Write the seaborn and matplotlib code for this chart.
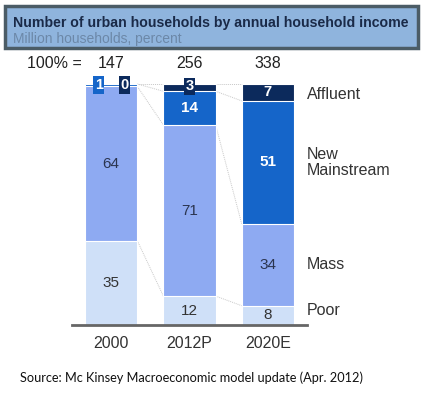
import numpy as np
import matplotlib.pyplot as plt
import seaborn as sns
from matplotlib.patches import Rectangle

years = ["2000", "2012P", "2020E"]
totals = [147, 256, 338]
segments = ["Poor", "Mass", "New\nMainstream", "Affluent"]
poor = [35, 12, 8]
mass = [64, 71, 34]
new_mainstream = [1, 14, 51]
affluent = [0, 3, 7]

colors = ["#cfe0f8", "#8eaaf2", "#1565c9", "#0c2a5c"]
text_colors = ["#333333", "#2b3550", "white", "white"]
weights = ["normal", "normal", "bold", "bold"]

sns.set_style("white")
plt.rcParams["font.family"] = ["Liberation Sans", "DejaVu Sans"]

fig = plt.figure(figsize=(4.26, 3.94), dpi=100)
ax = fig.add_axes([72 / 426, 1 - 325 / 394, 235 / 426, 241 / 394])

layers = np.array([poor, mass, new_mainstream, affluent], dtype=float)
cum = layers.cumsum(axis=0)

# draw from the top layer down so each shorter bar sits in front
for i in range(3, -1, -1):
    sns.barplot(x=years, y=cum[i], color=colors[i], width=0.667,
                edgecolor="white", linewidth=0.8, saturation=1, ax=ax)

# dotted connectors between segment tops
half = 0.667 / 2
for j in range(2):
    for i in range(4):
        ax.plot([j + half, j + 1 - half], [cum[i, j], cum[i, j + 1]],
                color="#c8c8c8", lw=0.7, ls=(0, (1, 1)), clip_on=False, zorder=0)

# segment labels
for j in range(3):
    for i in range(4):
        v = layers[i, j]
        mid = cum[i, j] - v / 2
        if v >= 8:
            ax.text(j, mid, f"{int(v)}", ha="center", va="center", fontsize=11,
                    color=text_colors[i], fontweight=weights[i])

# small boxed labels on thin segments
box_kw = dict(ha="center", va="center", fontsize=10.5, fontweight="bold", color="white")
ax.text(-0.16, 99.5, "1", bbox=dict(boxstyle="square,pad=0.12", fc=colors[2], ec="none"), **box_kw)
ax.text(0.17, 99.5, "0", bbox=dict(boxstyle="square,pad=0.12", fc=colors[3], ec="none"), **box_kw)
ax.text(1, 99.0, "3", bbox=dict(boxstyle="square,pad=0.12", fc=colors[3], ec="none"), **box_kw)
ax.text(2, 96.5, "7", **box_kw)

# totals
for j, t in enumerate(totals):
    ax.text(j, 105.5, str(t), ha="center", va="bottom", fontsize=11.5, color="#222222")
ax.text(-0.37, 105.5, "100% =", ha="right", va="bottom", fontsize=11.5, color="#222222")

# right-side segment names
right_y = [6, 25, 67.5, 95.5]
for name, y in zip(segments, right_y):
    ax.text(2.5, y, name, ha="left", va="center", fontsize=11.5, color="#333333",
            linespacing=1.1)

ax.set_xlim(-0.5, 2.5)
ax.set_ylim(0, 100)
ax.set_yticks([])
ax.tick_params(axis="x", length=0, labelsize=11.5, colors="#333333", pad=8)
sns.despine(ax=ax, left=True)
ax.spines["bottom"].set_color("#666666")
ax.spines["bottom"].set_linewidth(2)
ax.set_xlabel("")

# header box
fig.patches.append(Rectangle((5 / 426, 1 - 48 / 394), 413 / 426, 42 / 394,
                             transform=fig.transFigure, fc="#8fb4dd", ec="#4b5c66", lw=2.5))
fig.text(13 / 426, 1 - 23 / 394, "Number of urban households by annual household income",
         fontsize=10.2, fontweight="bold", color="#1a2a48", va="center")
fig.text(13 / 426, 1 - 39 / 394, "Million households, percent",
         fontsize=10, color="#6c88a8", va="center")

fig.text(20 / 426, 1 - 378 / 394, "Source: Mc Kinsey Macroeconomic model update (Apr. 2012)",
         fontsize=9.2, color="#111111", va="center", family=["Lato", "DejaVu Sans"])

fig.savefig("out.png", dpi=100)
